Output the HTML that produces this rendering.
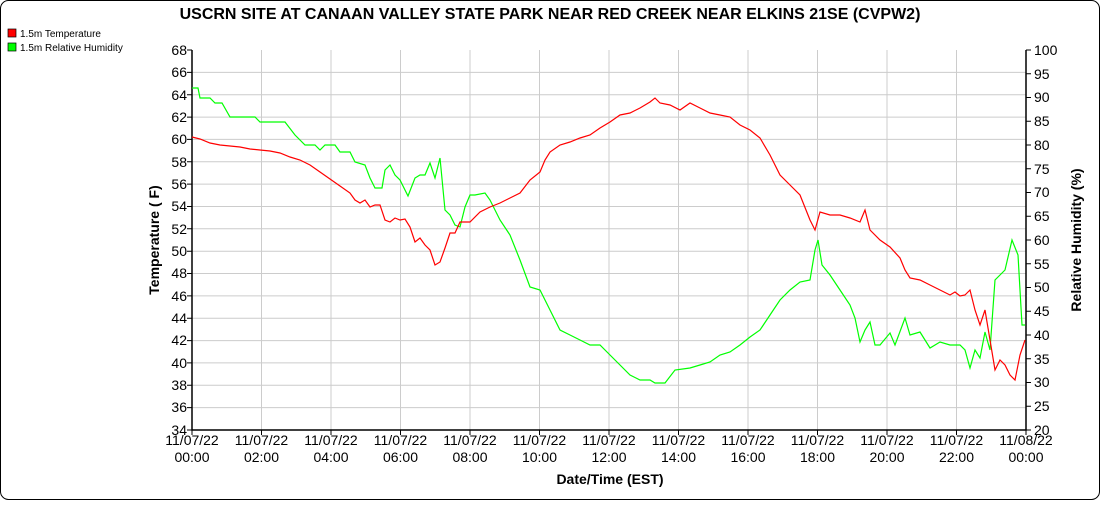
<!DOCTYPE html>
<html><head><meta charset="utf-8"><style>
body{margin:0;background:#fff;}
svg text{font-family:"Liberation Sans",sans-serif;}
</style></head><body>
<svg width="1100" height="500" xmlns="http://www.w3.org/2000/svg">
<rect x="0.5" y="0.5" width="1099" height="499" rx="8" fill="#fff" stroke="#000"/>
<text x="550" y="19" font-size="16" font-weight="bold" text-anchor="middle">USCRN SITE AT CANAAN VALLEY STATE PARK NEAR RED CREEK NEAR ELKINS 21SE (CVPW2)</text>
<rect x="8" y="29" width="8" height="8" fill="#f00" stroke="#000" stroke-width="0.7"/>
<text x="20" y="37" font-size="10">1.5m Temperature</text>
<rect x="8" y="43" width="8" height="8" fill="#0f0" stroke="#000" stroke-width="0.7"/>
<text x="20" y="51" font-size="10">1.5m Relative Humidity</text>
<g stroke="#ccc" stroke-width="1">
<line x1="192" x2="1026" y1="72.4" y2="72.4"/><line x1="192" x2="1026" y1="94.7" y2="94.7"/><line x1="192" x2="1026" y1="117.1" y2="117.1"/><line x1="192" x2="1026" y1="139.4" y2="139.4"/><line x1="192" x2="1026" y1="161.8" y2="161.8"/><line x1="192" x2="1026" y1="184.1" y2="184.1"/><line x1="192" x2="1026" y1="206.5" y2="206.5"/><line x1="192" x2="1026" y1="228.8" y2="228.8"/><line x1="192" x2="1026" y1="251.2" y2="251.2"/><line x1="192" x2="1026" y1="273.5" y2="273.5"/><line x1="192" x2="1026" y1="295.9" y2="295.9"/><line x1="192" x2="1026" y1="318.2" y2="318.2"/><line x1="192" x2="1026" y1="340.6" y2="340.6"/><line x1="192" x2="1026" y1="362.9" y2="362.9"/><line x1="192" x2="1026" y1="385.3" y2="385.3"/><line x1="192" x2="1026" y1="407.6" y2="407.6"/>
<line y1="50" y2="430" x1="261.5" x2="261.5"/><line y1="50" y2="430" x1="331" x2="331"/><line y1="50" y2="430" x1="400.5" x2="400.5"/><line y1="50" y2="430" x1="470" x2="470"/><line y1="50" y2="430" x1="539.5" x2="539.5"/><line y1="50" y2="430" x1="609" x2="609"/><line y1="50" y2="430" x1="678.5" x2="678.5"/><line y1="50" y2="430" x1="748" x2="748"/><line y1="50" y2="430" x1="817.5" x2="817.5"/><line y1="50" y2="430" x1="887" x2="887"/><line y1="50" y2="430" x1="956.5" x2="956.5"/>
</g>
<g stroke="#000" stroke-width="1.5" fill="none">
<path d="M192,50V430H1026V50"/>
</g>
<g font-size="14" text-anchor="end">
<text x="187" y="55">68</text><text x="187" y="77">66</text><text x="187" y="100">64</text><text x="187" y="122">62</text><text x="187" y="144">60</text><text x="187" y="167">58</text><text x="187" y="189">56</text><text x="187" y="211">54</text><text x="187" y="234">52</text><text x="187" y="256">50</text><text x="187" y="278">48</text><text x="187" y="301">46</text><text x="187" y="323">44</text><text x="187" y="345">42</text><text x="187" y="368">40</text><text x="187" y="390">38</text><text x="187" y="412">36</text><text x="187" y="435">34</text>
</g>
<g font-size="14">
<text x="1034" y="55">100</text><text x="1034" y="79">95</text><text x="1034" y="102">90</text><text x="1034" y="126">85</text><text x="1034" y="150">80</text><text x="1034" y="174">75</text><text x="1034" y="197">70</text><text x="1034" y="221">65</text><text x="1034" y="245">60</text><text x="1034" y="269">55</text><text x="1034" y="292">50</text><text x="1034" y="316">45</text><text x="1034" y="340">40</text><text x="1034" y="364">35</text><text x="1034" y="387">30</text><text x="1034" y="411">25</text><text x="1034" y="435">20</text>
</g>
<g stroke="#000"><path d="M187,50h5M187,72.4h5M187,94.7h5M187,117.1h5M187,139.4h5M187,161.8h5M187,184.1h5M187,206.5h5M187,228.8h5M187,251.2h5M187,273.5h5M187,295.9h5M187,318.2h5M187,340.6h5M187,362.9h5M187,385.3h5M187,407.6h5M187,430h5"/>
<path d="M1026,50h5M1026,73.75h5M1026,97.5h5M1026,121.25h5M1026,145h5M1026,168.75h5M1026,192.5h5M1026,216.25h5M1026,240h5M1026,263.75h5M1026,287.5h5M1026,311.25h5M1026,335h5M1026,358.75h5M1026,382.5h5M1026,406.25h5M1026,430h5"/>
<path d="M192,430v5M261.5,430v5M331,430v5M400.5,430v5M470,430v5M539.5,430v5M609,430v5M678.5,430v5M748,430v5M817.5,430v5M887,430v5M956.5,430v5M1026,430v5"/></g>
<g font-size="14" text-anchor="middle">
<text x="192" y="445">11/07/22</text><text x="192" y="462">00:00</text>
<text x="261.5" y="445">11/07/22</text><text x="261.5" y="462">02:00</text>
<text x="331" y="445">11/07/22</text><text x="331" y="462">04:00</text>
<text x="400.5" y="445">11/07/22</text><text x="400.5" y="462">06:00</text>
<text x="470" y="445">11/07/22</text><text x="470" y="462">08:00</text>
<text x="539.5" y="445">11/07/22</text><text x="539.5" y="462">10:00</text>
<text x="609" y="445">11/07/22</text><text x="609" y="462">12:00</text>
<text x="678.5" y="445">11/07/22</text><text x="678.5" y="462">14:00</text>
<text x="748" y="445">11/07/22</text><text x="748" y="462">16:00</text>
<text x="817.5" y="445">11/07/22</text><text x="817.5" y="462">18:00</text>
<text x="887" y="445">11/07/22</text><text x="887" y="462">20:00</text>
<text x="956.5" y="445">11/07/22</text><text x="956.5" y="462">22:00</text>
<text x="1026" y="445">11/08/22</text><text x="1026" y="462">00:00</text>
</g>
<text x="610" y="484" font-size="14" font-weight="bold" text-anchor="middle">Date/Time (EST)</text>
<text transform="translate(159,240) rotate(-90)" font-size="14" font-weight="bold" text-anchor="middle">Temperature ( F)</text>
<text transform="translate(1081,240) rotate(-90)" font-size="14" font-weight="bold" text-anchor="middle">Relative Humidity (%)</text>
<polyline fill="none" stroke="#0f0" stroke-width="1.2" points="192,88 198,88 200,98 210,98 215,103 222,103 230,117 240,117 255,117 260,122 285,122 295,135 305,145 315,145 320,150 325,145 335,145 340,152 350,152 355,162 365,165 370,178 375,188 382,188 385,170 390,165 395,175 400,180 408,196 415,178 420,175 425,175 430,163 435,178 440,158 445,210 450,215 455,225 460,227 465,207 470,195 475,195 485,193 490,200 500,220 510,235 520,260 530,287 540,290 550,310 560,330 570,335 580,340 590,345 600,345 610,355 620,365 630,375 640,380 650,380 655,383 665,383 675,370 690,368 700,365 710,362 720,355 730,352 740,345 750,337 760,330 770,315 780,300 790,290 800,282 810,280 815,250 818,240 822,265 830,275 840,290 850,305 855,318 860,342 865,330 870,322 875,345 880,345 890,333 895,345 905,318 910,335 920,332 930,348 940,342 950,345 960,345 965,350 970,368 975,350 980,358 985,332 990,350 995,280 1000,275 1005,270 1012,240 1018,255 1022,325 1025,325"/>
<polyline fill="none" stroke="#f00" stroke-width="1.2" points="192,137 200,139 210,143 220,145 230,146 240,147 250,149 260,150 270,151 280,153 290,157 300,160 310,165 320,172 330,179 340,186 350,193 355,200 360,203 365,200 370,207 375,205 380,205 385,220 390,222 395,218 400,220 405,219 410,227 415,242 420,238 425,245 430,250 435,265 440,262 445,248 450,233 455,233 460,222 470,222 480,212 490,207 500,203 510,198 520,193 530,180 540,172 545,160 550,152 560,145 570,142 580,138 590,135 600,128 610,122 620,115 630,113 640,108 650,102 655,98 660,103 670,105 680,110 690,103 700,108 710,113 720,115 730,117 740,125 750,130 760,138 770,155 780,175 790,185 800,195 810,220 815,230 820,212 830,215 840,215 850,218 860,222 865,210 870,230 880,240 890,247 900,258 905,270 910,278 920,280 930,285 940,290 950,295 955,292 960,296 965,295 970,290 975,310 980,325 985,310 990,340 995,370 1000,360 1005,365 1010,375 1015,380 1020,355 1025,340"/>
</svg>
</body></html>
